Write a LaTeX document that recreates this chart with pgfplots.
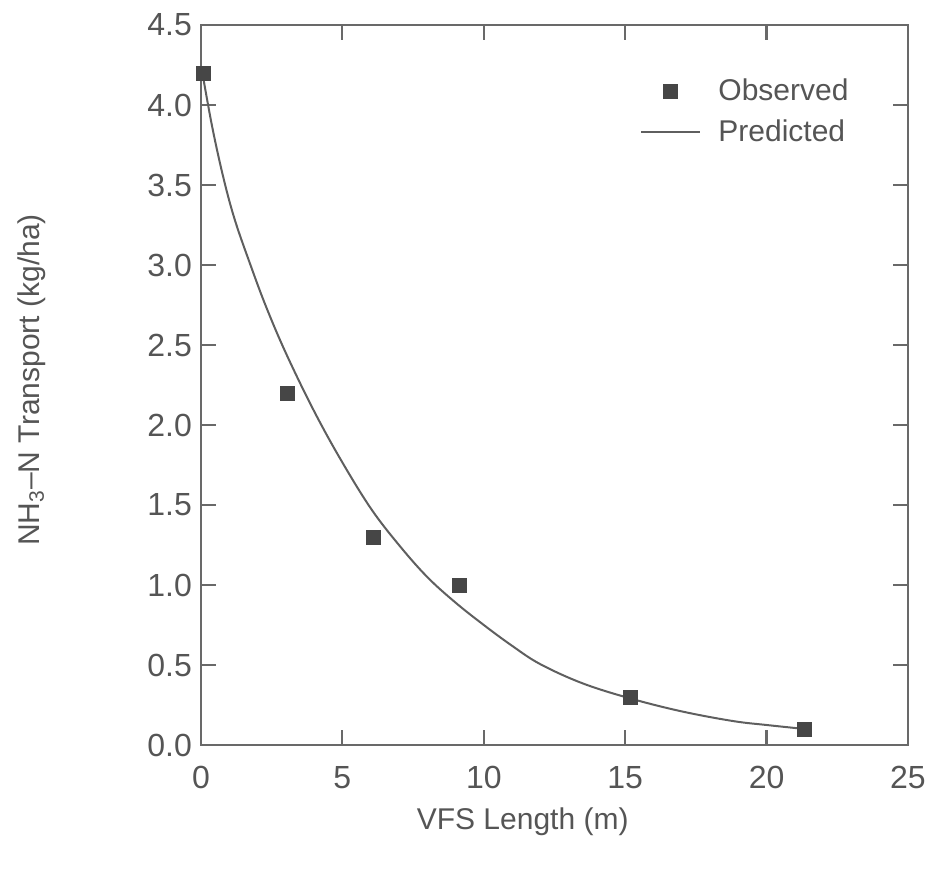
\documentclass[border=0pt]{standalone}
\usepackage{fontspec}
\setmainfont{Liberation Sans}
\usepackage{pgfplots}
\pgfplotsset{compat=1.18}
\definecolor{txt}{RGB}{85,85,85}
\definecolor{frame}{RGB}{105,105,105}
\definecolor{mk}{RGB}{70,70,70}
\definecolor{ln}{RGB}{95,95,95}
\begin{document}
\begin{tikzpicture}
\useasboundingbox (-100.5pt,-66pt) rectangle (368pt,372.5pt);
\begin{axis}[
  at={(0pt,0pt)}, anchor=south west,
  scale only axis, width=353.5pt, height=360pt,
  xmin=0, xmax=25, ymin=0, ymax=4.5,
  xtick={0,5,...,25}, ytick={0,0.5,...,4.5},
  tick align=inside, major tick length=7.5pt,
  axis line style={draw=frame, line width=1.2pt},
  every tick/.style={draw=frame, line width=1.1pt},
  /pgf/number format/assume math mode=true,
  yticklabel style={/pgf/number format/fixed, /pgf/number format/fixed zerofill, /pgf/number format/precision=1, font=\fontsize{16}{19}\selectfont, text=txt, xshift=-1pt},
  xticklabel style={font=\fontsize{16}{19}\selectfont, text=txt, yshift=-7pt},
  xlabel={VFS Length (m)},
  ylabel={NH\textsubscript{3}--N Transport (kg/ha)},
  every axis x label/.style={at={(axis description cs:0.455,-0.106)}, anchor=center, font=\fontsize{15}{18}\selectfont, text=txt},
  every axis y label/.style={at={(axis description cs:-0.24,0.507)}, anchor=center, rotate=90, font=\fontsize{15}{18}\selectfont, text=txt},
  legend image code/.code={\path[draw=none,fill=none] (0pt,0pt) -- (36.5pt,0pt); \draw[mark repeat=2,mark phase=2,#1] plot coordinates {(0pt,0pt) (14.5pt,0pt) (29pt,0pt)};},
  legend style={at={(axis description cs:0.621,0.931)}, anchor=north west, draw=none, fill=none, font=\fontsize{15}{18}\selectfont, text=txt, row sep=4pt, inner sep=0pt},
  legend cell align=left,
  clip=false,
]
\addplot[only marks, mark=square*, mark size=3.5pt, mark options={draw=mk, fill=mk}] coordinates {
  (0.1,4.2) (3.05,2.2) (6.1,1.3) (9.15,1.0) (15.2,0.3) (21.35,0.1)
};
\addlegendentry{Observed}
\addplot[smooth, tension=0.6, draw=ln, line width=1pt, no marks] coordinates {
  (0.05,4.20) (0.4,3.86) (0.8,3.54) (1.2,3.28) (1.75,3.00) (2.3,2.74) (3.0,2.45)
  (3.96,2.10) (4.92,1.79) (6.0,1.48) (7.0,1.25) (8.0,1.05) (9.0,0.89) (10.0,0.75)
  (11.0,0.62) (12.0,0.505) (13.5,0.385) (15.2,0.29) (17.0,0.21) (18.8,0.15)
  (20.0,0.125) (21.35,0.10)
};
\addlegendentry{Predicted}
\end{axis}
\end{tikzpicture}
\end{document}
